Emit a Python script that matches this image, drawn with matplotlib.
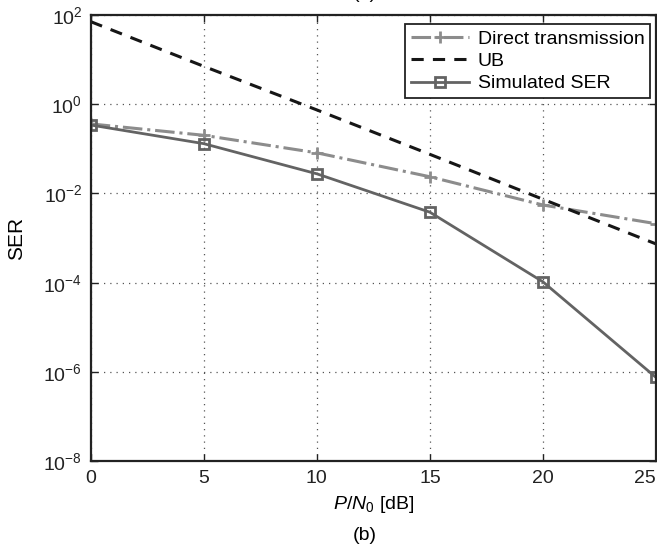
import matplotlib
matplotlib.use('Agg')
import matplotlib.pyplot as plt

plt.rcParams['font.family'] = ['Liberation Sans', 'DejaVu Sans']
plt.rcParams['mathtext.fontset'] = 'custom'
plt.rcParams['mathtext.rm'] = 'Liberation Sans'
plt.rcParams['mathtext.it'] = 'Liberation Sans:italic'

# P/N0 in dB
snr_db = [0, 5, 10, 15, 20, 25]
direct_ser = [0.36, 0.20, 0.081, 0.0236, 0.0055, 0.0021]
ub_ser = [70, 7.0, 0.74, 0.075, 0.0074, 0.00074]
sim_ser = [0.34, 0.13, 0.0275, 0.0038, 1.05e-4, 7.6e-7]

xticks = [0, 5, 10, 15, 20, 25]
yticks = [1e2, 1e0, 1e-2, 1e-4, 1e-6, 1e-8]

fig = plt.figure(figsize=(6.57, 5.55), dpi=100)
ax = fig.add_axes([0.138, 0.1685, 0.8605, 0.805])

ax.semilogy(snr_db, direct_ser, color='#8c8c8c', ls='-.', lw=2.2,
            marker='+', ms=9, mew=2, label='Direct transmission')
ax.semilogy(snr_db, ub_ser, color='#161616', ls=(0, (4, 3)), lw=2.2,
            label='UB')
ax.semilogy(snr_db, sim_ser, color='#636363', ls='-', lw=2.0,
            marker='s', ms=7, mew=2, mfc='none', label='Simulated SER')

ax.set_xlim(0, 25)
ax.set_ylim(1e-8, 1e2)
ax.set_xticks(xticks)
ax.set_yticks(yticks)
ax.minorticks_off()
ax.tick_params(direction='in', top=True, right=True, length=5, width=1,
               labelsize=14, pad=6, colors='#222222')
ax.get_xticklabels()[-1].set_ha('right')
ax.grid(True, ls=(0, (1, 4)), color='#555555', lw=0.9)
for s in ax.spines.values():
    s.set_linewidth(1.6)
    s.set_color('#222222')

ax.set_xlabel(r'$P/N_0$ [dB]', fontsize=14, labelpad=5)
ax.set_ylabel('SER', fontsize=15)
ax.yaxis.set_label_coords(-0.115, 0.5)

leg = ax.legend(loc='upper right', bbox_to_anchor=(0.990, 0.979),
                borderaxespad=0, fontsize=14, handlelength=3.0,
                handletextpad=0.45, borderpad=0.3, labelspacing=0.25,
                fancybox=False, framealpha=1)
leg.get_frame().set_edgecolor('#222222')
leg.get_frame().set_linewidth(1.3)

fig.text(0.555, 0.035, '(b)', ha='center', va='center', fontsize=14)
fig.text(0.555, 1.012, '(a)', ha='center', va='center', fontsize=14)

fig.savefig('out.png', dpi=100)
